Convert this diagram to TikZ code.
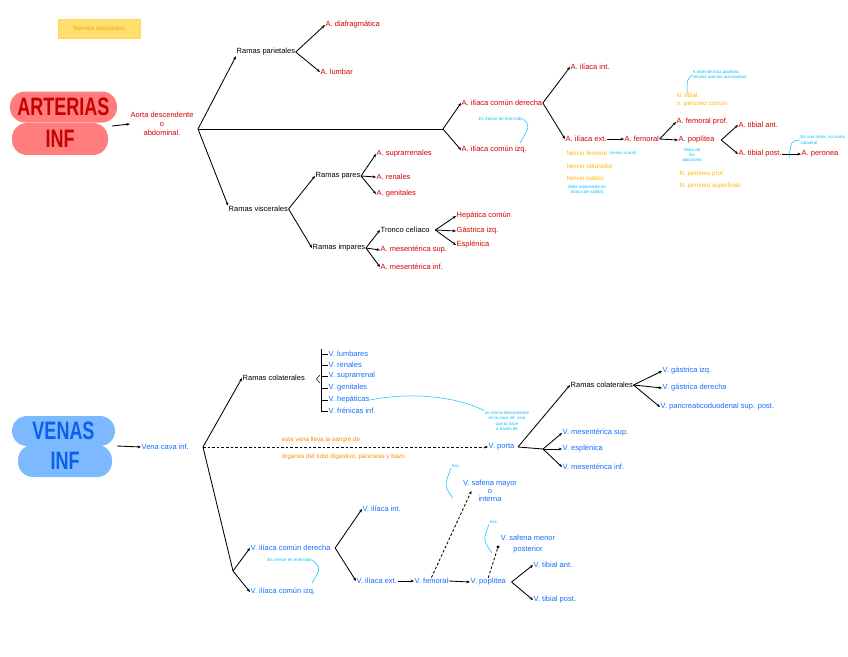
\documentclass[tikz,border=0pt]{standalone}
\usepackage{fontspec}
\setmainfont{Liberation Sans}
\usetikzlibrary{arrows.meta, positioning}
\definecolor{arteria}{RGB}{214,0,0}
\definecolor{vena}{RGB}{20,110,255}
\definecolor{nervio}{RGB}{255,185,0}
\definecolor{nota}{RGB}{0,190,255}
\definecolor{naranja}{RGB}{255,140,0}
\definecolor{pillrojo}{RGB}{255,125,125}
\definecolor{rojooscuro}{RGB}{200,0,0}
\definecolor{pillazul}{RGB}{125,185,255}
\definecolor{azuloscuro}{RGB}{10,95,235}
\definecolor{leyendafondo}{RGB}{255,224,110}
\definecolor{leyendatexto}{RGB}{230,170,0}

\begin{document}
\begin{tikzpicture}
    [
        x=1pt, y=-1pt,
        ln/.style={line width=0.85pt},
        arr/.style={ln, -{Stealth[length=3.4pt,width=2.8pt]}},
        dsh/.style={ln, dash pattern=on 2.6pt off 2pt},
        lbl/.style={anchor=west, inner sep=0.5pt, font=\fontsize{7.5}{8}\selectfont},
        artlbl/.style={lbl, text=arteria},
        venlbl/.style={lbl, text=vena},
        blklbl/.style={lbl, text=black},
        nervlbl/.style={lbl, text=nervio, font=\fontsize{6.2}{7}\selectfont},
        orglbl/.style={lbl, text=naranja, font=\fontsize{6.3}{7}\selectfont},
        notelbl/.style={lbl, text=nota, font=\fontsize{4.4}{5.4}\selectfont, align=left},
        notecurve/.style={draw=nota, line width=0.5pt},
        pill/.style={rounded corners=15pt, inner sep=0pt, font=\fontsize{18}{18}\selectfont\bfseries},
    ]
    \useasboundingbox[fill=white] (0,0) rectangle (848,656);

    % leyenda
    \node[fill=leyendafondo, draw=leyendafondo!80!nervio, text=leyendatexto, minimum width=82pt, minimum height=19pt, inner sep=0pt, font=\fontsize{6.3}{7}\selectfont] (leyenda) at (99,28.5) {Nervios asociados};

    % ---------------- arterias ----------------
    \node[pill, fill=pillrojo, text=rojooscuro, minimum width=96pt, minimum height=32pt] (infA) at (60,139) {\scalebox{1}[1.4]{INF}};
    \node[pill, fill=pillrojo, text=rojooscuro, minimum width=107pt, minimum height=31pt] (arterias) at (63.5,107) {\scalebox{1}[1.4]{ARTERIAS}};
    \coordinate (arteriasOut) at (112,126);
    \node[artlbl, anchor=center, align=center, font=\fontsize{7.5}{9}\selectfont] (aorta) at (162,124) {Aorta descendente\\o\\abdominal.};
    \draw[arr] (arteriasOut) -- (aorta.west);
    \coordinate (fA) at (198,129);

    \node[blklbl] (rpar) at (236,52) {Ramas parietales};
    \node[blklbl] (rvis) at (228,209) {Ramas viscerales};
    \draw[arr] (fA) -- (rpar.south west);
    \draw[arr] (fA) -- (rvis.north west);

    \node[artlbl] (adiaf) at (325,25) {A. diafragmática};
    \node[artlbl] (alumb) at (320,72) {A. lumbar};
    \draw[arr] (rpar.east) -- (adiaf.west);
    \draw[arr] (rpar.east) -- (alumb.west);

    \node[blklbl] (rpares) at (315,176) {Ramas pares};
    \node[blklbl] (rimpares) at (312,248) {Ramas impares};
    \draw[arr] (rvis.east) -- (rpares.west);
    \draw[arr] (rvis.east) -- (rimpares.west);

    \node[artlbl] (asupra) at (376,154) {A. suprarrenales};
    \node[artlbl] (aren) at (376,177) {A. renales};
    \node[artlbl] (agen) at (376,194) {A. genitales};
    \foreach \n in {asupra,aren,agen}
        \draw[arr] (rpares.east) -- (\n.west);

    \node[blklbl] (tronco) at (380,230) {Tronco celíaco};
    \node[artlbl] (amsup) at (380,250) {A. mesentérica sup.};
    \node[artlbl] (aminf) at (380,267) {A. mesentérica inf.};
    \foreach \n in {tronco,amsup,aminf}
        \draw[arr] (rimpares.east) -- (\n.west);

    \coordinate[right=5pt of tronco] (fTronco);
    \node[artlbl] (ahep) at (456,216) {Hepática común};
    \node[artlbl] (agas) at (456,231) {Gástrica izq.};
    \node[artlbl] (aesp) at (456,245) {Esplénica};
    \foreach \n in {ahep,agas,aesp}
        \draw[arr] (fTronco) -- (\n.west);

    % iliacas
    \coordinate (fIC) at (443,129);
    \draw[ln] (fA) -- (fIC);
    \node[artlbl] (aicd) at (461,103) {A. ilíaca común derecha};
    \node[artlbl] (aici) at (461,150) {A. ilíaca común izq.};
    \draw[arr] (fIC) -- (aicd.west);
    \draw[arr] (fIC) -- (aici.west);
    \node[notelbl] (nmenorA) at (478,119) {Es menor en este lado};
    \coordinate (nmenorAEnd) at (520,143);
    \draw[notecurve] (nmenorA.east) .. controls (530,126) .. (nmenorAEnd);

    \node[artlbl] (aiint) at (570,67) {A. ilíaca int.};
    \node[artlbl] (aiext) at (565,139) {A. ilíaca ext.};
    \draw[arr] (aicd.east) -- (aiint.west);
    \draw[arr] (aicd.east) -- (aiext.west);

    \node[nervlbl] (nfem) at (566,153) {Nervio femoral};
    \node[notelbl] (ncrur) [right=1pt of nfem] {(nervio crural)};
    \node[nervlbl] (nobt) at (566,166) {Nervio obturador};
    \node[nervlbl] (nciat) at (566,178) {Nervio ciático};
    \node[notelbl, anchor=center, align=center] (nciatnota) at (587,190) {(Más importante en\\tronco de salida)};

    \node[artlbl] (afem) at (624,139) {A. femoral};
    \draw[arr] (aiext.east) -- (afem.west);
    \node[artlbl] (afemp) at (676,122) {A. femoral prof.};
    \node[artlbl] (apop) at (678,140) {A. poplítea};
    \draw[arr] (afem.east) -- (afemp.west);
    \draw[arr] (afem.east) -- (apop.west);

    \node[notelbl] (nfosa) at (692,75) {A nivel de fosa poplítea,\\nervios que las acompañan};
    \coordinate (nfosaEnd) at (687,93);
    \draw[notecurve] (nfosa.west) .. controls (687,80) .. (nfosaEnd);
    \node[nervlbl] (ntib) at (676,96) {N. tibial,};
    \node[nervlbl] (nperc) at (676,104) {n. peroneo común};
    \node[notelbl, anchor=center, align=center] (hiato) at (692,155) {Hiato de\\los\\aductores};
    \node[nervlbl] (nperp) at (679,174) {N. peroneo prof.};
    \node[nervlbl] (npers) at (679,186) {N. peroneo superficial.};

    \coordinate[right=6pt of apop] (fPop);
    \node[artlbl] (atant) at (738,125) {A. tibial ant.};
    \node[artlbl] (atpost) at (738,154) {A. tibial post.};
    \draw[arr] (fPop) -- (atant.west);
    \draw[arr] (fPop) -- (atpost.west);
    \node[artlbl] (aper) at (801,154) {A. peronea};
    \draw[arr] (atpost.east) -- (aper.west);
    \node[notelbl] (nrama) at (800,140) {Es una rama, no como\\colateral};
    \coordinate (nramaEnd) at (789,158);
    \draw[notecurve] (nrama.west) .. controls (791,141) .. (nramaEnd);

    % ---------------- venas ----------------
    \node[pill, fill=pillazul, text=azuloscuro, minimum width=94pt, minimum height=32pt] (infV) at (65,461) {\scalebox{1}[1.4]{INF}};
    \node[pill, fill=pillazul, text=azuloscuro, minimum width=103pt, minimum height=30pt] (venas) at (63.5,431) {\scalebox{1}[1.4]{VENAS}};
    \coordinate (venasOut) at (117,446);
    \node[venlbl] (vci) at (141,447) {Vena cava inf.};
    \draw[arr] (venasOut) -- (vci.west);
    \coordinate (fV) at (203,447);

    \node[blklbl] (vrcol) at (242,378) {Ramas colaterales};
    \draw[arr] (fV) -- (vrcol.west);
    \coordinate (brTop) at (321,349);
    \coordinate (brBot) at (321,412);
    \coordinate (brMid) at (321,379);
    \draw[ln] (brTop) -- (brBot);
    \draw[line width=0.5pt] (brMid) ++(-1,-4) -- ++(-3.5,4) -- ++(3.5,4);
    \foreach \n/\t/\y in {vlum/V. lumbares/354, vren/V. renales/365, vsup/V. suprarrenal/376, vgen/V. genitales/388, vhep/V. hepáticas/400, vfren/V. frénicas inf./411} {
        \node[venlbl] (\n) at (328,\y) {\t};
        \draw[ln] (\n.west -| brTop) -- (\n.west);
    }
    \node[notelbl, anchor=center, align=center] (nporta) at (507,421) {no drena directamente\\en la cava inf. sino\\que lo hace\\a través de};
    \draw[notecurve] (vhep.east) .. controls (410,392) and (455,396) .. (nporta.north west);

    \node[venlbl] (vporta) at (488,447) {V. porta};
    \draw[arr, dsh] (fV) -- (vporta.west);
    \node[orglbl] (norg1) at (281,440) {esta vena lleva la sangre de};
    \node[orglbl] (norg2) at (281,457) {órganos del tubo digestivo, páncreas y bazo};

    \coordinate[right=3pt of vporta] (fPorta);
    \node[blklbl] (vrcol2) at (570,385) {Ramas colaterales};
    \draw[arr] (fPorta) -- (vrcol2.west);
    \coordinate (fMes) at (543,449);
    \draw[ln] (fPorta) -- (fMes);
    \node[venlbl] (vmsup) at (562,433) {V. mesentérica sup.};
    \node[venlbl] (vesp) at (562,449) {V. esplénica};
    \node[venlbl] (vminf) at (562,467) {V. mesentérica inf.};
    \foreach \n in {vmsup,vesp,vminf}
        \draw[arr] (fMes) -- (\n.west);
    \node[venlbl] (vgi) at (662,371) {V. gástrica izq.};
    \node[venlbl] (vgd) at (662,388) {V. gástrica derecha};
    \node[venlbl] (vpan) at (660,407) {V. pancreaticoduodenal sup. post.};
    \foreach \n in {vgi,vgd,vpan}
        \draw[arr] (vrcol2.east) -- (\n.west);

    % iliacas venas
    \coordinate (fIliacaV) at (233,571);
    \draw[ln] (fV) -- (fIliacaV);
    \node[venlbl] (vicd) at (250,548) {V. ilíaca común derecha};
    \node[venlbl] (vici) at (250,592) {V. ilíaca común izq.};
    \draw[arr] (fIliacaV) -- (vicd.west);
    \draw[arr] (fIliacaV) -- (vici.west);
    \node[notelbl] (nmenorV) at (267,560) {Es menor en este lado};
    \coordinate (nmenorVEnd) at (312,583);
    \draw[notecurve] (nmenorV.east) .. controls (321,568) .. (nmenorVEnd);

    \coordinate[right=4pt of vicd] (fVicd);
    \node[venlbl] (viint) at (362,509) {V. ilíaca int.};
    \node[venlbl] (viext) at (356,581) {V. ilíaca ext.};
    \draw[arr] (fVicd) -- (viint.west);
    \draw[arr] (fVicd) -- (viext.west);
    \node[venlbl] (vfem) at (414,581) {V. femoral};
    \draw[arr] (viext.east) -- (vfem.west);
    \node[venlbl] (vpop) at (470,582) {V. poplítea};
    \draw[arr] (vfem.east) -- (vpop.west);

    \node[venlbl, anchor=center, align=center] (vsafmay) at (490,491) {V. safena mayor\\o\\interna};
    \draw[arr, dsh] (vfem.north) -- ([xshift=9pt]vsafmay.west);
    \node[notelbl] (nasc1) at (451,466) {Asc.};
    \coordinate (nasc1End) at (453,498);
    \draw[notecurve] (nasc1.south west) .. controls (444,486) .. (nasc1End);

    \node[venlbl, anchor=center, align=center, font=\fontsize{7.5}{11.5}\selectfont] (vsafmen) at (528,544) {V. safena menor\\posterior};
    \coordinate (safMenDot) at (498,547);
    \draw[dsh] (vpop.north) -- (safMenDot);
    \fill (safMenDot) circle (1.7pt);
    \node[notelbl] (nasc2) at (489,522) {Asc.};
    \coordinate (nasc2End) at (492,553);
    \draw[notecurve] (nasc2.south west) .. controls (483,540) .. (nasc2End);

    \coordinate[right=5pt of vpop] (fVpop);
    \node[venlbl] (vtant) at (533,565) {V. tibial ant.};
    \node[venlbl] (vtpost) at (533,600) {V. tibial post.};
    \draw[arr] (fVpop) -- (vtant.west);
    \draw[arr] (fVpop) -- (vtpost.west);
\end{tikzpicture}
\end{document}
